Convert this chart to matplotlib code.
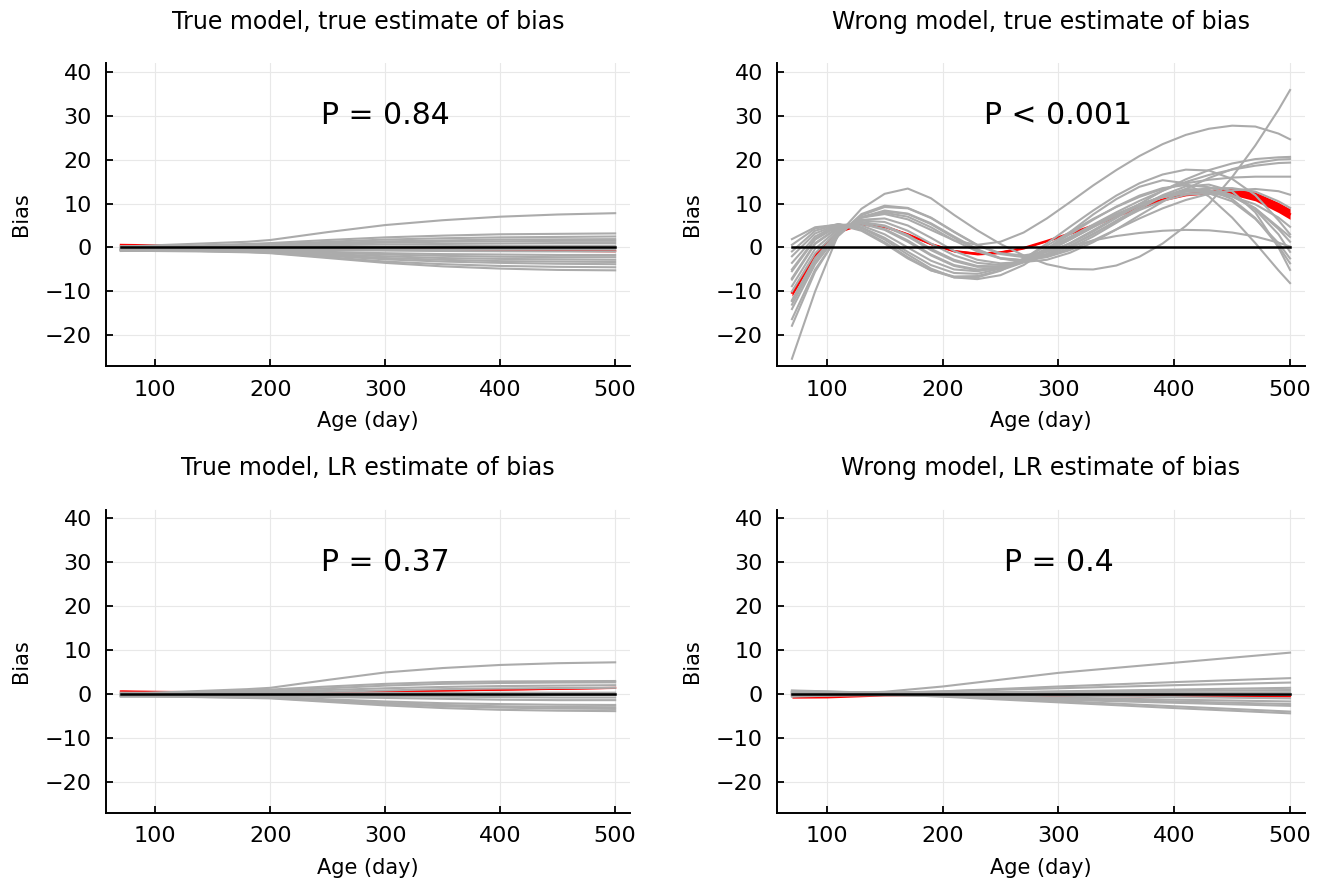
import matplotlib
matplotlib.use("Agg")
import matplotlib.pyplot as plt
import numpy as np

# ---------------- data ----------------
titles = ["True model, true estimate of bias", "Wrong model, true estimate of bias",
          "True model, LR estimate of bias", "Wrong model, LR estimate of bias"]
p_labels = ["P = 0.84", "P < 0.001", "P = 0.37", "P = 0.4"]
x_ticks = [100, 200, 300, 400, 500]
y_ticks = [-20, -10, 0, 10, 20, 30, 40]
zero_line_x = [70, 500]
zero_line_y = [0, 0]

# Panel 1: true model, true estimate
age_tt = [70, 100, 140, 180, 200, 250, 300, 350, 400, 450, 500]
gray_tt = [
    [0.2, 0.5, 0.9, 1.3, 1.7, 3.5, 5.1, 6.2, 7.0, 7.5, 7.8],
    [0.1, 0.3, 0.5, 0.8, 1.0, 1.7, 2.3, 2.7, 3.0, 3.1, 3.2],
    [-0.2, 0.1, 0.3, 0.6, 0.7, 1.3, 1.8, 2.1, 2.3, 2.4, 2.5],
    [0.0, 0.2, 0.3, 0.5, 0.6, 1.0, 1.4, 1.6, 1.8, 1.85, 1.9],
    [-0.3, -0.1, 0.1, 0.3, 0.4, 0.8, 1.1, 1.3, 1.4, 1.5, 1.5],
    [0.3, 0.2, 0.2, 0.2, 0.3, 0.5, 0.7, 0.8, 0.9, 1.0, 1.0],
    [-0.5, -0.3, -0.2, -0.1, 0.0, 0.1, 0.2, 0.3, 0.35, 0.4, 0.4],
    [-0.4, -0.4, -0.3, -0.3, -0.3, -0.3, -0.35, -0.4, -0.4, -0.4, -0.4],
    [-0.6, -0.5, -0.5, -0.5, -0.5, -0.6, -0.7, -0.8, -0.85, -0.9, -0.9],
    [-0.3, -0.4, -0.5, -0.6, -0.7, -1.0, -1.3, -1.5, -1.6, -1.7, -1.7],
    [-0.7, -0.6, -0.7, -0.7, -0.8, -1.2, -1.6, -1.9, -2.1, -2.2, -2.2],
    [-0.5, -0.6, -0.7, -0.8, -0.9, -1.5, -2.0, -2.4, -2.6, -2.7, -2.8],
    [-0.8, -0.7, -0.8, -0.9, -1.0, -1.7, -2.4, -2.8, -3.1, -3.2, -3.3],
    [-0.4, -0.5, -0.7, -0.9, -1.1, -1.9, -2.7, -3.2, -3.5, -3.7, -3.8],
    [-0.6, -0.7, -0.8, -1.0, -1.2, -2.2, -3.2, -3.8, -4.2, -4.4, -4.5],
    [-0.7, -0.8, -0.9, -1.1, -1.3, -2.4, -3.5, -4.3, -4.8, -5.1, -5.2],
]
red_tt = [0.6, 0.5, 0.3, 0.1, 0.0, -0.2, -0.35, -0.5, -0.6, -0.7, -0.75]
red_tt_hw = [0.3, 0.2, 0.15, 0.15, 0.15, 0.15, 0.15, 0.15, 0.2, 0.2, 0.25]

# Panel 2: wrong model, true estimate
age_w = [70, 90, 110, 130, 150, 170, 190, 210, 230, 250, 270, 290,
         310, 330, 350, 370, 390, 410, 430, 450, 470, 490, 500]
gray_w = [
    [-25.3, -10.0, 3.0, 8.8, 12.2, 13.4, 11.2, 7.4, 3.9, 0.8, -1.8, -3.8, -4.9, -5.0, -4.1, -2.1, 0.9, 4.9, 9.9, 16.0, 23.2, 31.3, 35.8],
    [-12.2, -2.5, 3.5, 6.8, 7.6, 6.4, 4.0, 1.6, 0.6, 1.3, 3.4, 6.6, 10.3, 14.1, 17.6, 20.8, 23.5, 25.6, 27.0, 27.7, 27.5, 25.9, 24.6],
    [-17.8, -5.5, 2.8, 7.6, 9.5, 9.0, 6.8, 3.6, 0.6, -1.3, -1.8, -1.0, 0.9, 3.6, 6.7, 9.9, 12.9, 15.5, 17.6, 19.1, 20.1, 20.5, 20.6],
    [-14.0, -3.8, 3.0, 6.9, 8.4, 7.7, 5.5, 2.5, -0.4, -2.5, -3.3, -2.8, -1.2, 1.2, 4.1, 7.3, 10.4, 13.3, 15.8, 17.8, 19.2, 20.0, 20.1],
    [-3.5, 2.5, 5.2, 5.0, 3.0, 0.0, -3.0, -5.0, -5.4, -4.5, -2.7, -0.3, 2.4, 5.2, 8.0, 10.6, 12.9, 14.9, 16.5, 17.7, 18.6, 19.2, 19.3],
    [-2.0, 3.2, 5.2, 4.6, 2.2, -1.0, -4.0, -5.8, -6.0, -4.8, -2.5, 0.4, 3.5, 6.5, 9.2, 11.5, 13.3, 14.6, 15.4, 15.9, 16.1, 16.1, 16.1],
    [-0.9, 3.8, 5.3, 4.4, 1.8, -1.6, -4.8, -6.8, -7.2, -6.3, -4.0, -0.5, 3.5, 7.5, 11.0, 13.8, 15.3, 14.6, 11.6, 6.8, 1.0, -5.2, -8.1],
    [0.6, 4.3, 5.3, 4.0, 1.2, -2.2, -5.2, -6.8, -6.8, -5.3, -2.6, 0.9, 4.7, 8.4, 11.8, 14.6, 16.6, 17.7, 17.5, 15.6, 11.9, 6.2, 3.0],
    [1.9, 4.6, 5.2, 3.8, 0.9, -2.5, -5.2, -6.6, -6.5, -5.2, -3.4, -1.5, 0.2, 1.6, 2.6, 3.3, 3.8, 4.0, 3.9, 3.4, 2.5, 1.1, 0.2],
    [-5.4, 1.8, 4.9, 5.4, 4.0, 1.3, -1.8, -4.2, -5.2, -4.8, -3.0, -0.2, 3.0, 6.3, 9.3, 11.8, 13.5, 14.2, 13.7, 11.9, 8.9, 4.6, 2.4],
    [-7.3, 0.8, 4.5, 5.7, 4.8, 2.5, -0.6, -3.1, -4.4, -4.4, -3.1, -0.9, 1.8, 4.7, 7.4, 9.8, 11.6, 12.7, 12.8, 11.6, 8.9, 4.2, 1.3],
    [-8.8, -0.3, 4.2, 6.1, 5.8, 3.8, 0.9, -1.8, -3.5, -4.0, -3.3, -1.5, 1.0, 3.9, 6.9, 9.6, 11.7, 12.9, 13.0, 11.9, 8.6, 3.0, -1.0],
    [-10.0, -1.3, 3.8, 6.3, 6.6, 5.0, 2.2, -0.8, -2.8, -3.6, -3.3, -1.9, 0.4, 3.1, 5.9, 8.5, 10.6, 12.0, 12.3, 10.5, 6.5, 1.0, -2.5],
    [-12.0, -2.5, 3.5, 6.8, 7.9, 7.0, 4.6, 1.6, -0.9, -2.5, -2.9, -2.2, -0.6, 1.6, 4.1, 6.6, 8.9, 10.8, 12.2, 13.0, 13.3, 12.8, 12.0],
    [-13.0, -3.2, 3.2, 6.8, 8.2, 7.6, 5.3, 2.2, -0.6, -2.4, -2.9, -2.1, -0.2, 2.5, 5.6, 8.8, 11.6, 13.3, 13.1, 11.0, 6.7, 0.3, -3.6],
    [-16.3, -5.0, 2.6, 7.3, 9.2, 8.9, 6.7, 3.5, 0.5, -1.5, -2.2, -1.6, 0.3, 3.0, 6.1, 9.2, 11.9, 13.9, 14.3, 12.8, 8.0, 0.0, -5.1],
    [-5.0, 2.0, 5.0, 5.5, 4.2, 1.6, -1.6, -4.0, -5.0, -4.6, -3.0, -0.6, 2.2, 5.0, 7.6, 9.8, 11.4, 12.3, 12.4, 11.6, 9.8, 6.8, 4.7],
    [-7.0, 1.0, 4.6, 5.8, 5.0, 2.8, -0.3, -2.8, -4.2, -4.3, -3.1, -0.9, 1.8, 4.6, 7.3, 9.6, 11.5, 12.8, 13.5, 13.5, 12.7, 10.5, 9.0],
]
red_w = [-10.3, -1.8, 3.6, 5.4, 4.8, 3.0, 0.8, -0.8, -1.4, -1.1, -0.1, 1.5,
         3.2, 5.0, 7.2, 9.2, 10.9, 12.1, 12.7, 12.7, 11.6, 9.1, 7.6]
red_w_hw = [0.8, 0.4, 0.25, 0.3, 0.3, 0.25, 0.2, 0.25, 0.3, 0.3, 0.25, 0.2,
            0.2, 0.25, 0.25, 0.25, 0.3, 0.35, 0.5, 0.75, 1.0, 1.15, 1.2]

# Panel 3: true model, LR estimate
age_tl = [70, 100, 140, 180, 200, 250, 300, 350, 400, 450, 500]
gray_tl = [
    [0.0, 0.3, 0.7, 1.1, 1.4, 3.2, 4.9, 5.9, 6.6, 7.0, 7.2],
    [0.2, 0.3, 0.5, 0.8, 1.0, 1.7, 2.3, 2.7, 2.85, 2.9, 2.95],
    [-0.1, 0.1, 0.3, 0.5, 0.7, 1.3, 1.9, 2.3, 2.5, 2.6, 2.65],
    [0.1, 0.2, 0.3, 0.4, 0.5, 0.9, 1.3, 1.6, 1.8, 1.9, 2.0],
    [-0.2, -0.1, 0.0, 0.1, 0.2, 0.5, 0.8, 1.1, 1.25, 1.35, 1.4],
    [0.3, 0.2, 0.1, 0.1, 0.1, 0.15, 0.2, 0.25, 0.3, 0.3, 0.3],
    [-0.3, -0.2, -0.2, -0.2, -0.2, -0.2, -0.2, -0.2, -0.2, -0.2, -0.2],
    [-0.4, -0.3, -0.3, -0.3, -0.3, -0.4, -0.5, -0.6, -0.7, -0.8, -0.8],
    [-0.2, -0.3, -0.4, -0.4, -0.5, -0.7, -0.9, -1.1, -1.3, -1.4, -1.4],
    [-0.5, -0.4, -0.5, -0.6, -0.7, -1.2, -1.7, -2.1, -2.3, -2.45, -2.5],
    [-0.3, -0.4, -0.5, -0.7, -0.8, -1.4, -2.0, -2.5, -2.8, -2.95, -3.0],
    [-0.6, -0.6, -0.7, -0.8, -0.9, -1.6, -2.3, -2.8, -3.1, -3.3, -3.4],
    [-0.5, -0.6, -0.7, -0.9, -1.0, -1.8, -2.6, -3.2, -3.6, -3.8, -3.9],
]
red_tl = [0.6, 0.5, 0.4, 0.3, 0.3, 0.4, 0.6, 0.8, 1.0, 1.2, 1.4]
red_tl_hw = [0.25, 0.2, 0.15, 0.15, 0.15, 0.15, 0.15, 0.15, 0.15, 0.15, 0.15]

# Panel 4: wrong model, LR estimate
age_wl = [70, 100, 150, 200, 300, 400, 500]
gray_wl = [
    [-0.3, 0.0, 0.5, 1.7, 4.8, 7.1, 9.4],
    [-0.5, -0.3, 0.1, 0.6, 1.7, 2.7, 3.6],
    [0.3, 0.3, 0.3, 0.6, 1.3, 2.0, 2.6],
    [-0.6, -0.4, -0.1, 0.2, 0.6, 1.0, 1.4],
    [0.6, 0.5, 0.3, 0.3, 0.5, 0.7, 0.9],
    [-0.2, -0.1, 0.0, 0.1, 0.2, 0.3, 0.4],
    [0.4, 0.3, 0.1, 0.0, -0.1, -0.15, -0.2],
    [0.7, 0.5, 0.2, 0.0, -0.4, -0.7, -1.0],
    [0.2, 0.1, -0.1, -0.3, -0.8, -1.3, -1.7],
    [0.5, 0.3, 0.0, -0.3, -1.0, -1.7, -2.3],
    [-0.4, -0.3, -0.3, -0.5, -1.3, -2.0, -2.7],
    [0.8, 0.6, 0.2, -0.3, -1.6, -2.8, -4.0],
    [0.1, 0.0, -0.1, -0.6, -1.9, -3.2, -4.4],
]
red_wl = [-0.1, -0.1, -0.1, -0.2, -0.4, -0.5, -0.5]
red_wl_hw = [0.85, 0.8, 0.35, 0.15, 0.15, 0.15, 0.15]

panels = [
    (age_tt, gray_tt, red_tt, red_tt_hw),
    (age_w, gray_w, red_w, red_w_hw),
    (age_tl, gray_tl, red_tl, red_tl_hw),
    (age_wl, gray_wl, red_wl, red_wl_hw),
]

# ---------------- figure ----------------
W, H = 1323, 886
fig = plt.figure(figsize=(W / 100, H / 100), dpi=100)
plt.rcParams['font.family'] = ['DejaVu Sans']

# axes boxes in pixels: left, top, right, bottom
boxes = [(106, 63, 630, 366), (777, 63, 1305, 366),
         (106, 509.5, 630, 812.5), (777, 509.5, 1305, 812.5)]

gray_col = "#ababab"
for i, (box, (ages, grays, red, red_hw)) in enumerate(zip(boxes, panels)):
    l, t, r, b = box
    ax = fig.add_axes([l / W, 1 - b / H, (r - l) / W, (b - t) / H])
    ages_a = np.array(ages)
    red_a = np.array(red)
    hw_a = np.array(red_hw)
    ax.fill_between(ages_a, red_a - hw_a, red_a + hw_a, color="red", lw=0, zorder=2)
    ax.plot(ages_a, red_a, color="red", lw=1.5, zorder=2)
    for g in grays:
        ax.plot(ages_a, g, color=gray_col, lw=1.5, zorder=3, solid_joinstyle="round")
    ax.plot(zero_line_x, zero_line_y, color="black", lw=1.8, zorder=4)

    ax.set_xlim(57.1, 512.9)
    ax.set_ylim(-26.95, 41.95)
    ax.set_xticks(x_ticks)
    ax.set_yticks(y_ticks)
    ax.set_yticklabels([str(v).replace("-", "\u2212") for v in y_ticks])
    ax.grid(True, color="#e8e8e8", lw=0.8, zorder=0)
    ax.set_axisbelow(True)
    for s in ["top", "right"]:
        ax.spines[s].set_visible(False)
    for s in ["left", "bottom"]:
        ax.spines[s].set_linewidth(1.4)
    ax.tick_params(direction="in", length=5, width=1.3, labelsize=16, pad=10)
    ax.set_xlabel("Age (day)", fontsize=15, labelpad=8)
    ax.set_ylabel("Bias", fontsize=15, labelpad=10)
    ax.text(0.5, 1 + 41 / (b - t), titles[i], transform=ax.transAxes,
            ha="center", va="center", fontsize=17)
    ax.text(300, 30, p_labels[i], ha="center", va="center", fontsize=21.5)

fig.savefig("out.png", dpi=100)
